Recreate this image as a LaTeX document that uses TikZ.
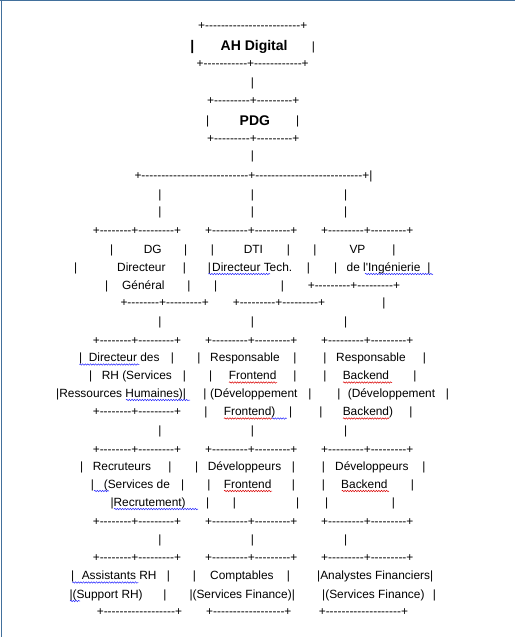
\documentclass[tikz,border=0pt]{standalone}
\usepackage{fontspec}
\newfontfamily\asciifont{Liberation Sans}[Ligatures=TeXOff]
\usetikzlibrary{decorations.pathmorphing}
\definecolor{edgeblue}{RGB}{66,112,156}
\newcommand\dsh[1]{\foreach\k in {1,...,#1}{-}}
\tikzset{
    %Define style for the chart text
    txt/.style={
           anchor=base west,
           inner sep=0pt,
           font=\asciifont\fontsize{11.9}{14}\selectfont},
    bar/.style={txt, anchor=base},
    head/.style={
           txt,
           font=\asciifont\bfseries\fontsize{14}{16}\selectfont},
    headbar/.style={head, anchor=base},
    % Define spell check marks
    spellblue/.style={
           draw=blue!85!white,
           line width=.5pt,
           decorate,
           decoration={snake, amplitude=.7pt, segment length=2.6pt}},
    spellred/.style={spellblue, draw=red!85!black},
    pageedge/.style={draw=edgeblue, line width=1.2pt}
}

\begin{document}
\begin{tikzpicture}[x=1pt,y=-1pt]
\useasboundingbox (0,0) rectangle (515,637);
\draw[pageedge] (0,0.6) -- (515,0.6);
\draw[pageedge] (1.6,0) -- (1.6,637);
 %top
\node[txt](topA) at (198,29){+\dsh{24}+};
\node[headbar](ahL) at (192.3,50.7){|};
\node[head](ah) at (220.5,50.7){AH Digital};
\node[bar](ahR) at (313.3,50.7){|};
\node[txt](topB) at (196.5,67.3){+\dsh{11}+\dsh{12}+};
\node[bar](l1) at (252.3,86.3){|};
\node[txt](pdgA) at (207,104){+\dsh{9}+\dsh{9}+};
\node[bar](pdgL) at (207.7,124.5){|};
\node[head](pdg) at (239.5,125){PDG};
\node[bar](pdgR) at (297.7,124.5){|};
\node[txt](pdgB) at (207,142.3){+\dsh{9}+\dsh{9}+};
\node[bar](l2) at (252.5,159.7){|};
\node[txt](split) at (134.3,179){+\dsh{27}+\dsh{27}+|};
\node[bar](s1a) at (160,198){|};
\node[bar](s1b) at (252.3,198){|};
\node[bar](s1c) at (345.7,198){|};
\node[bar](s2a) at (160,215){|};
\node[bar](s2b) at (252.3,215){|};
\node[bar](s2c) at (345.7,215){|};
 %directors
\node[txt](dgA) at (92.6,234.7){+\dsh{8}+\dsh{9}+};
\node[txt](dtiA) at (205,234.7){+\dsh{9}+\dsh{9}+};
\node[txt](vpA) at (321,234.7){+\dsh{9}+\dsh{9}+};
\node[bar](b13a) at (111.7,253){|};
\node[txt](dg) at (143.6,253){DG};
\node[bar](b13b) at (185.7,253){|};
\node[bar](b13c) at (212.3,253){|};
\node[txt](dti) at (243.6,253){DTI};
\node[bar](b13d) at (288.3,253){|};
\node[bar](b13e) at (315,253){|};
\node[txt](vp) at (349.3,253){VP};
\node[bar](b13f) at (394,253){|};
\node[bar](b14a) at (75.7,271.3){|};
\node[txt](dg2) at (117,271.3){Directeur};
\node[bar](b14b) at (184.3,271.3){|};
\node[bar](b14c) at (209.3,271.3){|};
\node[txt](dti2) at (212,271.3){Directeur Tech.};
\node[bar](b14d) at (308.3,271.3){|};
\node[bar](b14e) at (335.7,271.3){|};
\node[txt](vp2) at (346.5,271.3){de l'Ingénierie};
\node[bar](b14f) at (429,271.3){|};
\node[bar](b15a) at (106.7,289){|};
\node[txt](dg3) at (122,289){Général};
\node[bar](b15b) at (189,289){|};
\node[bar](b15c) at (215.7,289){|};
\node[bar](b15d) at (282.3,289){|};
\node[txt](vpB) at (307.6,289){+\dsh{9}+\dsh{9}+};
\node[txt](dgB) at (120.3,306.7){+\dsh{8}+\dsh{9}+};
\node[txt](dtiB) at (232.6,306.7){+\dsh{9}+\dsh{9}+};
\node[bar](b16) at (384,306.7){|};
\node[bar](s3a) at (160,325.3){|};
\node[bar](s3b) at (252.3,325.3){|};
\node[bar](s3c) at (345.7,325.3){|};
 %managers
\node[txt](rhA) at (92.6,344){+\dsh{8}+\dsh{9}+};
\node[txt](feA) at (205,344){+\dsh{9}+\dsh{9}+};
\node[txt](beA) at (321,344){+\dsh{9}+\dsh{9}+};
\node[bar](b19a) at (80.7,361.7){|};
\node[txt](rh1) at (88.6,361.7){Directeur des};
\node[bar](b19b) at (172.3,361.7){|};
\node[bar](b19c) at (199,361.7){|};
\node[txt](fe1) at (210,361.7){Responsable};
\node[bar](b19d) at (295,361.7){|};
\node[bar](b19e) at (325,361.7){|};
\node[txt](be1) at (336,361.7){Responsable};
\node[bar](b19f) at (424.3,361.7){|};
\node[bar](b20a) at (90.7,379.7){|};
\node[txt](rh2) at (101.6,379.7){RH (Services};
\node[bar](b20b) at (184.3,379.7){|};
\node[bar](b20c) at (210.7,379.7){|};
\node[txt](fe2) at (228.6,379.7){Frontend};
\node[bar](b20d) at (295,379.7){|};
\node[bar](b20e) at (325,379.7){|};
\node[txt](be2) at (342.6,379.7){Backend};
\node[bar](b20f) at (415,379.7){|};
\node[txt](rh3) at (56,397.3){|Ressources Humaines)|};
\node[bar](b21a) at (205,397.3){|};
\node[txt](fe3) at (210,397.3){(Développement};
\node[bar](b21b) at (310,397.3){|};
\node[bar](b21c) at (339,397.3){|};
\node[txt](be3) at (347.6,397.3){(Développement};
\node[bar](b21d) at (447.3,397.3){|};
\node[txt](rhB) at (92.6,415.7){+\dsh{8}+\dsh{9}+};
\node[bar](b22a) at (206,415.7){|};
\node[txt](fe4) at (223.6,415.7){Frontend)};
\node[bar](b22b) at (290.7,415.7){|};
\node[bar](b22c) at (321,415.7){|};
\node[txt](be4) at (342.6,415.7){Backend)};
\node[bar](b22d) at (411,415.7){|};
\node[bar](s4a) at (160,434.7){|};
\node[bar](s4b) at (252.3,434.7){|};
\node[bar](s4c) at (345.7,434.7){|};
 %teams
\node[txt](recA) at (92.6,453){+\dsh{8}+\dsh{9}+};
\node[txt](devfA) at (205,453){+\dsh{9}+\dsh{9}+};
\node[txt](devbA) at (321,453){+\dsh{9}+\dsh{9}+};
\node[bar](b25a) at (81.7,470.7){|};
\node[txt](rec1) at (92.6,470.7){Recruteurs};
\node[bar](b25b) at (170,470.7){|};
\node[bar](b25c) at (196.7,470.7){|};
\node[txt](devf1) at (207.6,470.7){Développeurs};
\node[bar](b25d) at (293.3,470.7){|};
\node[bar](b25e) at (323.3,470.7){|};
\node[txt](devb1) at (335,470.7){Développeurs};
\node[bar](b25f) at (424,470.7){|};
\node[bar](b26a) at (92.3,488.3){|};
\node[txt](rec2) at (103.6,488.3){(Services de};
\node[bar](b26b) at (182.7,488.3){|};
\node[bar](b26c) at (209,488.3){|};
\node[txt](devf2) at (223.6,488.3){Frontend};
\node[bar](b26d) at (293.3,488.3){|};
\node[bar](b26e) at (323.3,488.3){|};
\node[txt](devb2) at (341,488.3){Backend};
\node[bar](b26f) at (412.3,488.3){|};
\node[txt](rec3) at (110.3,506.3){|Recrutement)};
\node[bar](b27a) at (207.7,506.3){|};
\node[bar](b27b) at (234.3,506.3){|};
\node[bar](b27c) at (297.7,506.3){|};
\node[bar](b27d) at (326.7,506.3){|};
\node[bar](b27e) at (393.3,506.3){|};
\node[txt](recB) at (92.6,525){+\dsh{8}+\dsh{9}+};
\node[txt](devfB) at (205,525){+\dsh{9}+\dsh{9}+};
\node[txt](devbB) at (321,525){+\dsh{9}+\dsh{9}+};
\node[bar](s5a) at (160,543.7){|};
\node[bar](s5b) at (252.3,543.7){|};
\node[bar](s5c) at (345.7,543.7){|};
 %support
\node[txt](asA) at (92.6,561.3){+\dsh{8}+\dsh{9}+};
\node[txt](coA) at (205,561.3){+\dsh{9}+\dsh{9}+};
\node[txt](anA) at (321,561.3){+\dsh{9}+\dsh{9}+};
\node[bar](b31a) at (72.7,579.7){|};
\node[txt](as1) at (81.6,579.7){Assistants RH};
\node[bar](b31b) at (168.3,579.7){|};
\node[bar](b31c) at (194.3,579.7){|};
\node[txt](co1) at (210,579.7){Comptables};
\node[bar](b31d) at (288.3,579.7){|};
\node[txt](an1) at (317,579.7){|Analystes Financiers|};
\node[txt](as2) at (69.3,598.3){|(Support RH)};
\node[bar](b32a) at (165,598.3){|};
\node[txt](co2) at (189.3,598.3){|(Services Finance)|};
\node[txt](an2) at (322,598.3){|(Services Finance)};
\node[bar](b32b) at (434.3,598.3){|};
\node[txt](asB) at (96.6,615.7){+\dsh{18}+};
\node[txt](coB) at (206,615.7){+\dsh{18}+};
\node[txt](anB) at (318.6,615.7){+\dsh{19}+};
 %spell check marks
\draw[spellblue] (208.5,274) -- (270,274);
\draw[spellblue] (365,274) -- (433,274);
\draw[spellblue] (79.3,364.5) -- (139.3,364.5);
\draw[spellred] (229,382.5) -- (277,382.5);
\draw[spellred] (343,382.5) -- (392,382.5);
\draw[spellblue] (126,400) -- (190,400);
\draw[spellred] (224,418.5) -- (272,418.5);
\draw[spellblue] (272,418.5) -- (286.7,418.5);
\draw[spellred] (343,418.5) -- (389,418.5);
\draw[spellblue] (94,491) -- (109,491);
\draw[spellred] (224,491) -- (272,491);
\draw[spellred] (341.7,491) -- (389,491);
\draw[spellblue] (114,509) -- (198,509);
\draw[spellblue] (72.3,582.5) -- (138.3,582.5);
\draw[spellblue] (70,601) -- (80,601);
\end{tikzpicture}
\end{document}
